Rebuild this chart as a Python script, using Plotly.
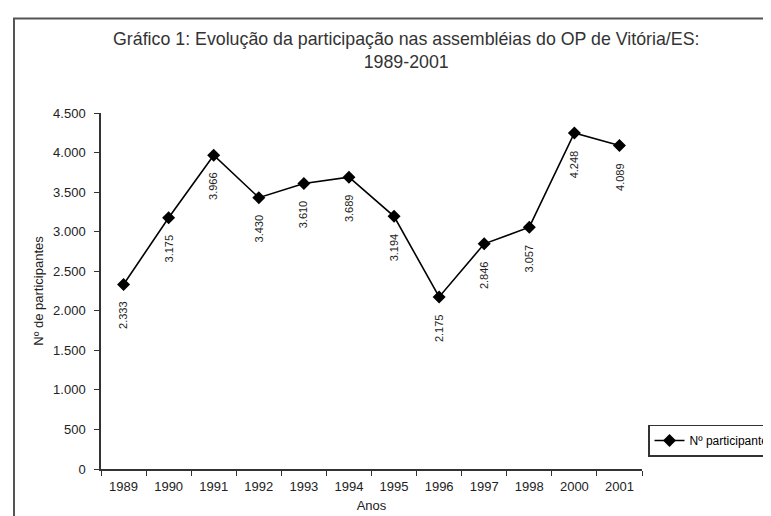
import plotly.graph_objects as go

years = ["1989", "1990", "1991", "1992", "1993", "1994", "1995", "1996", "1997", "1998", "2000", "2001"]
participants = [2333, 3175, 3966, 3430, 3610, 3689, 3194, 2175, 2846, 3057, 4248, 4089]
y_ticks = [0, 500, 1000, 1500, 2000, 2500, 3000, 3500, 4000, 4500]

title_text = "Gráfico 1: Evolução da participação nas assembléias do OP de Vitória/ES:<br>1989-2001"
series_name = "Nº participantes"

FONT = "Liberation Sans, Arial, sans-serif"
W, H = 771, 516
L, R, T, B = 93, 137, 105, 55
pw, ph = W - L - R, H - T - B


def px_x(p):
    return (p - L) / pw


def px_y(p):
    return (H - B - p) / ph


fig = go.Figure()
fig.add_trace(go.Scatter(
    x=years, y=participants, mode="lines+markers", name=series_name,
    line=dict(color="black", width=1.6),
    marker=dict(symbol="diamond", size=10, color="black"),
))

for i, v in enumerate(participants):
    fig.add_annotation(
        x=i, y=v, xref="x", yref="y", text=f"{v:,}".replace(",", "."),
        showarrow=False, textangle=-90, yanchor="top", xanchor="center",
        yshift=-15, font=dict(family=FONT, size=11, color="#222"),
    )

fig.add_annotation(
    x=px_x(398), y=px_y(19), xref="paper", yref="paper", text=title_text,
    showarrow=False, xanchor="center", yanchor="top", align="center",
    font=dict(family=FONT, size=17.8, color="#333"),
)

fig.add_shape(type="rect", xref="paper", yref="paper",
              x0=px_x(6), x1=px_x(900), y0=px_y(600), y1=px_y(10.5),
              line=dict(color="#555", width=2), fillcolor="rgba(0,0,0,0)", layer="above")

fig.update_layout(
    width=W, height=H,
    margin=dict(l=L, r=R, t=T, b=B, autoexpand=False),
    paper_bgcolor="white", plot_bgcolor="white",
    separators=",.",
    font=dict(family=FONT, size=13, color="#222"),
    showlegend=True,
    legend=dict(
        x=px_x(640), y=px_y(432.5), xanchor="left", yanchor="middle",
        bordercolor="#333", borderwidth=1.5, bgcolor="white",
        font=dict(family=FONT, size=12, color="black"),
        tracegroupgap=0, itemwidth=30,
    ),
    xaxis=dict(
        type="category", categoryorder="array", categoryarray=years,
        range=[-0.5, len(years) - 0.5], autorange=False,
        tickson="boundaries", ticks="outside", ticklen=5,
        tickcolor="#333", showline=True, linecolor="#333", linewidth=1.5,
        showgrid=False, zeroline=False, tickangle=0, ticklabelstandoff=5,
        title=dict(text="Anos", font=dict(family=FONT, size=13, color="#222"), standoff=8),
        tickfont=dict(family=FONT, size=13, color="#222"),
    ),
    yaxis=dict(
        range=[0, 4500], autorange=False, tickvals=y_ticks, tickformat=",d", ticks="outside",
        ticklen=5, tickcolor="#333", showline=True, linecolor="#333", linewidth=1.5,
        showgrid=False, zeroline=False, ticklabelstandoff=6,
        title=dict(text="Nº de participantes", font=dict(family=FONT, size=13, color="#222"), standoff=7),
        tickfont=dict(family=FONT, size=13, color="#222"),
    ),
)

fig.write_html("out.html")
